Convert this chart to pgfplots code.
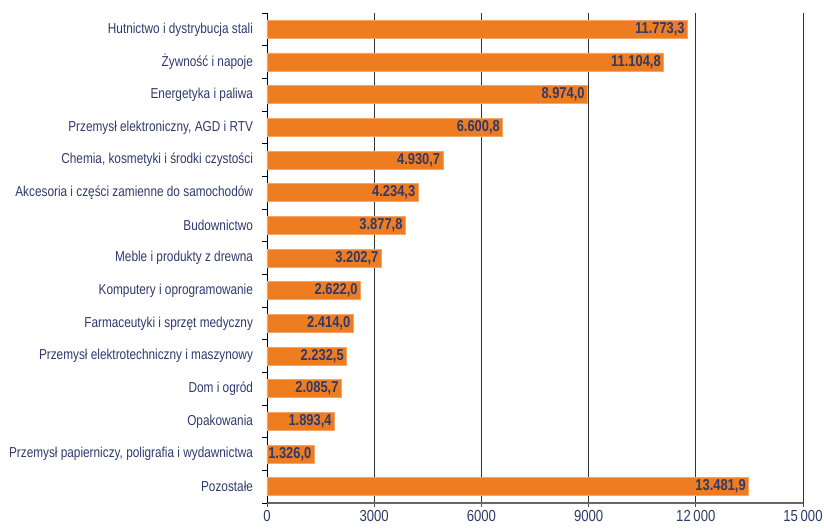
\documentclass[border=0pt]{standalone}
\usepackage{fontspec}
\setmainfont{Liberation Sans}[FakeStretch=0.82]
\usepackage{pgfplots}
\pgfplotsset{compat=1.18}
\definecolor{barfill}{HTML}{EE7D22}
\definecolor{baredge}{HTML}{F4A56A}
\definecolor{navy}{HTML}{2E3A6C}
\begin{document}
\begin{tikzpicture}
\begin{axis}[
  at={(0,0)}, anchor=south west,
  scale only axis, width=402pt, height=367.5pt,
  xbar, bar width=13.5pt,
  xmin=0, xmax=15000,
  ymin=-0.5, ymax=14.5, y dir=reverse,
  scaled x ticks=false,
  axis x line*=bottom, axis y line*=left,
  x axis line style={draw=black!60, line width=0.8pt, -},
  y axis line style={draw=black, line width=0.7pt, -},
  xtick={0,3000,6000,9000,12000,15000},
  xticklabels={0,3000,6000,9000,12\,000,15\,000},
  xmajorgrids, grid style={draw=black!80, line width=0.7pt},
  ytick={0,...,14},
  yticklabels={Hutnictwo i dystrybucja stali,
    Żywność i napoje,
    Energetyka i paliwa,
    {Przemysł elektroniczny, AGD i RTV},
    {Chemia, kosmetyki i środki czystości},
    Akcesoria i części zamienne do samochodów,
    Budownictwo,
    Meble i produkty z drewna,
    Komputery i oprogramowanie,
    Farmaceutyki i sprzęt medyczny,
    Przemysł elektrotechniczny i maszynowy,
    Dom i ogród,
    Opakowania,
    {Przemysł papierniczy, poligrafia i wydawnictwa},
    Pozostałe},
  major y tick style={draw=none},
  minor ytick={-0.5,0.5,...,14.5},
  minor y tick style={draw=black, line width=0.7pt},
  minor tick length=3.5pt,
  major x tick style={draw=black!70, line width=0.7pt},
  major tick length=3pt,
  tick align=outside,
  tick label style={text=navy},
  yticklabel style={font=\fontsize{10.8}{12}\selectfont, xshift=-4pt},
  xticklabel style={font=\fontsize{12}{13}\selectfont, yshift=-1pt, inner sep=1pt},
  nodes near coords,
  nodes near coords style={anchor=east, text=navy, inner sep=2pt,
     font=\bfseries\fontsize{11.8}{13}\selectfont,
     /pgf/number format/.cd, fixed, fixed zerofill, precision=1,
     1000 sep={.}, use comma, assume math mode=true},
  clip=false,
]
\addplot[fill=barfill, draw=baredge, line width=0.6pt] coordinates {
  (11773.3,0) (11104.8,1) (8974.0,2) (6600.8,3) (4930.7,4)
  (4234.3,5) (3877.8,6) (3202.7,7) (2622.0,8) (2414.0,9)
  (2232.5,10) (2085.7,11) (1893.4,12) (1326.0,13) (13481.9,14)
};
\end{axis}
\pgfresetboundingbox
\path (-200.25pt,-21pt) rectangle (417.75pt,377.25pt);
\end{tikzpicture}
\end{document}
